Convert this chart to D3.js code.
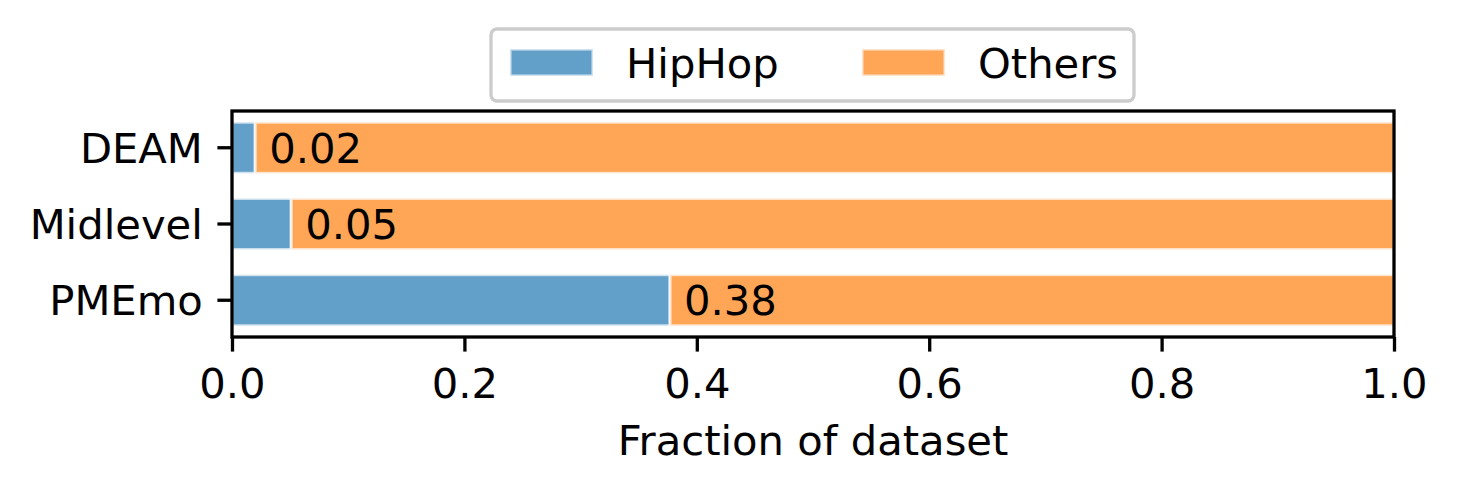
<html>
  <head>
    <style>
      body { margin: 0; background: #fff; }
      text { font-family: "DejaVu Sans", sans-serif; fill: #000; }
    </style>
  </head>
  <body>
    <script src="https://d3js.org/d3.v7.min.js"></script>
    <script>
    var width = 1457, height = 493;

    // data
    var datasets = ["DEAM", "Midlevel", "PMEmo"];
    var hiphop = [0.020, 0.051, 0.377];
    var others = [0.980, 0.949, 0.623];
    var xTicks = [0.0, 0.2, 0.4, 0.6, 0.8, 1.0];
    var seriesNames = ["HipHop", "Others"];
    var seriesColors = ["#1f77b4", "#ff7f0e"];

    var fontSize = 41.7, tickLen = 14.6, pad = 14.6, lw = 3.3;
    var plotL = 232, plotR = 1394, plotT = 111, plotB = 337;

    var svg = d3.select("body").append("svg")
        .attr("width", width)
        .attr("height", height);

    var x = d3.scaleLinear().domain([0, 1]).range([plotL, plotR]);
    var y = d3.scaleBand().domain(datasets).range([plotT, plotB])
        .paddingInner(0.33).paddingOuter(0.147);

    var rows = datasets.map(function(d, i) {
      return {name: d, h: hiphop[i], o: others[i]};
    });

    // HipHop bars
    svg.selectAll("rect.hh").data(rows).enter().append("rect")
        .attr("class", "hh")
        .attr("x", x(0))
        .attr("y", function(d) { return y(d.name); })
        .attr("width", function(d) { return x(d.h) - x(0); })
        .attr("height", y.bandwidth())
        .attr("fill", seriesColors[0]).attr("fill-opacity", 0.7)
        .attr("stroke", "#fff").attr("stroke-opacity", 0.7).attr("stroke-width", 3);

    // Others bars, stacked after HipHop
    svg.selectAll("rect.ot").data(rows).enter().append("rect")
        .attr("class", "ot")
        .attr("x", function(d) { return x(d.h); })
        .attr("y", function(d) { return y(d.name); })
        .attr("width", function(d) { return x(d.h + d.o) - x(d.h); })
        .attr("height", y.bandwidth())
        .attr("fill", seriesColors[1]).attr("fill-opacity", 0.7)
        .attr("stroke", "#fff").attr("stroke-opacity", 0.7).attr("stroke-width", 3);

    // value labels
    svg.selectAll("text.val").data(rows).enter().append("text")
        .attr("class", "val")
        .attr("x", function(d) { return x(d.h) + 14; })
        .attr("y", function(d) { return y(d.name) + y.bandwidth() / 2; })
        .attr("dy", "0.36em")
        .style("font-size", fontSize + "px")
        .text(function(d) { return d.h.toFixed(2); });

    // axes
    var xAxis = svg.append("g").attr("transform", "translate(0," + plotB + ")")
        .call(d3.axisBottom(x).tickValues(xTicks).tickFormat(d3.format(".1f"))
          .tickSizeInner(tickLen).tickSizeOuter(0).tickPadding(pad));
    var yAxis = svg.append("g").attr("transform", "translate(" + plotL + ",0)")
        .call(d3.axisLeft(y).tickSizeInner(tickLen).tickSizeOuter(0).tickPadding(pad));

    [xAxis, yAxis].forEach(function(g) {
      g.select(".domain").remove();
      g.selectAll(".tick line").attr("stroke", "#000").attr("stroke-width", lw);
      g.selectAll(".tick text").style("font-size", fontSize + "px")
        .style("font-family", "DejaVu Sans").attr("fill", "#000");
    });
    yAxis.selectAll(".tick text").attr("dy", "0.36em");
    xAxis.selectAll(".tick text").attr("dy", "0.76em");

    // frame
    svg.append("rect")
        .attr("x", plotL).attr("y", plotT)
        .attr("width", plotR - plotL).attr("height", plotB - plotT)
        .attr("fill", "none").attr("stroke", "#000").attr("stroke-width", lw);

    svg.append("text")
        .attr("x", (plotL + plotR) / 2).attr("y", 455)
        .attr("text-anchor", "middle")
        .style("font-size", fontSize + "px")
        .text("Fraction of dataset");

    // legend
    var leg = svg.append("g");
    leg.append("rect")
        .attr("x", 491).attr("y", 29).attr("width", 643).attr("height", 72)
        .attr("rx", 6).attr("fill", "#fff").attr("fill-opacity", 0.8)
        .attr("stroke", "#cccccc").attr("stroke-width", 3.3);
    var legX = [510, 862];
    seriesNames.forEach(function(s, i) {
      leg.append("rect")
          .attr("x", legX[i]).attr("y", 49).attr("width", 83).attr("height", 27)
          .attr("fill", seriesColors[i]).attr("fill-opacity", 0.7)
          .attr("stroke", "#fff").attr("stroke-opacity", 0.7).attr("stroke-width", 3);
      leg.append("text")
          .attr("x", legX[i] + 116).attr("y", 63)
          .attr("dy", "0.36em")
          .style("font-size", fontSize + "px")
          .text(s);
    });
    </script>
  </body>
</html>
